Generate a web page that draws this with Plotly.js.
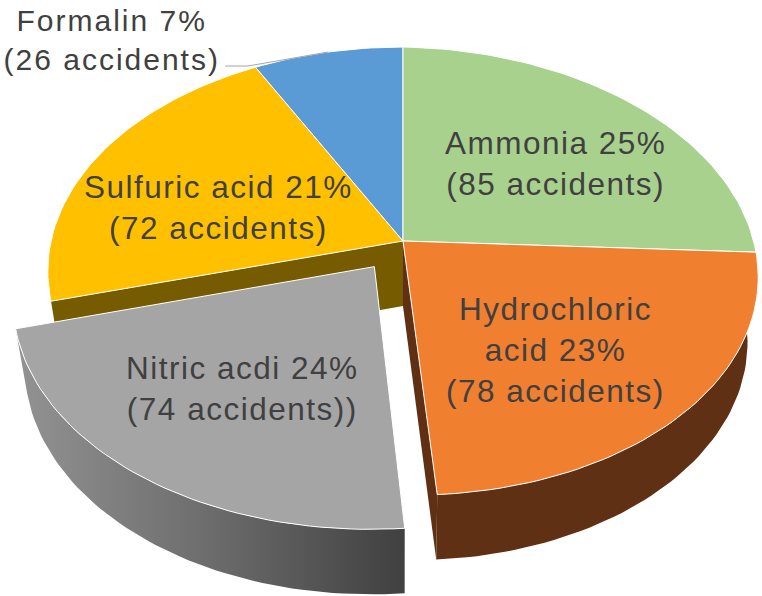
<!DOCTYPE html>
<html>
<head>
<meta charset="utf-8">
<script src="https://cdn.plot.ly/plotly-3.0.1.min.js"></script>
<style>html,body{margin:0;padding:0;background:#fff}#chart{width:762px;height:596px}
.annotation-text{letter-spacing:1.5px}
.annotation[data-index="4"] .annotation-text{letter-spacing:2px}</style>
</head>
<body>
<div id="chart"></div>
<script>
// Data
const categories = ['Ammonia', 'Hydrochloric acid', 'Nitric acdi', 'Sulfuric acid', 'Formalin'];
const accidents  = [85, 78, 74, 72, 26];
const percents   = [25, 23, 24, 21, 7];
const labelTexts = [
  'Ammonia 25%<br>(85 accidents)',
  'Hydrochloric<br>acid 23%<br>(78 accidents)',
  'Nitric acdi 24%<br>(74 accidents))',
  'Sulfuric acid 21%<br>(72 accidents)',
  'Formalin 7%<br>(26 accidents)'
];
const labelX = [555, 555, 242, 218, 111];
const labelY = [163, 350, 388, 207, 39.5];
const labelSizes = [31.5, 31.5, 31.5, 31.5, 30];
const topColors  = ['#a9d18e', '#f07f30', '#a5a5a5', '#ffc000', '#5b9bd5'];
const wallColors = ['#64803f', '#5f3013', '#5f5f5f', '#775b00', '#2e5d8a'];
const pulls      = [0, 0, 0.14, 0, 0];

// Tilted-pie view
const view = {cx: 403, cy: 241, a: 352, b: 220, k: 0.134, depth: 65, shrink: 0.97};
const total = accidents.reduce((s, v) => s + v, 0);
const D2R = Math.PI / 180;

function project(u, v, lower) {
  const w = 1 + view.k * v;
  let X = view.a * u / w;
  let Y = -view.b * v / w + 0.017 * Math.max(X, 0);
  if (lower) { X *= view.shrink; Y += view.depth; }
  return [view.cx + X, view.cy + Y];
}
function slicePoint(t, c, lower) {
  return project(Math.sin(t * D2R) + c[0], Math.cos(t * D2R) + c[1], lower);
}
function arc(t0, t1, c, lower) {
  const n = Math.max(2, Math.ceil(Math.abs(t1 - t0) / 1.5));
  const pts = [];
  for (let i = 0; i <= n; i++) pts.push(slicePoint(t0 + (t1 - t0) * i / n, c, lower));
  return pts;
}
const starts = [];
accidents.reduce((s, v, i) => { starts[i] = s; return s + v * 360 / total; }, 0);
const ends = accidents.map((v, i) => starts[i] + v * 360 / total);
const centres = accidents.map((v, i) => {
  const m = (starts[i] + ends[i]) / 2 * D2R;
  return [pulls[i] * Math.sin(m), pulls[i] * Math.cos(m)];
});

function polyTrace(pts, color, i, extra) {
  return Object.assign({
    type: 'scatter', mode: 'lines', fill: 'toself',
    x: pts.map(p => p[0]), y: pts.map(p => p[1]),
    fillcolor: color, line: {width: 0, color: color},
    hoveron: 'fills', hoverinfo: 'text',
    text: categories[i] + ': ' + accidents[i] + ' accidents (' + percents[i] + '%)',
    showlegend: false, name: categories[i]
  }, extra || {});
}
function topTrace(i) {
  const apex = project(centres[i][0], centres[i][1], false);
  const pts = [apex].concat(arc(starts[i], ends[i], centres[i], false), [apex]);
  return polyTrace(pts, topColors[i], i, {line: {width: 1, color: '#ffffff'}});
}
function sideWall(i) {
  const up = arc(starts[i], ends[i], centres[i], false);
  const low = arc(starts[i], ends[i], centres[i], true).reverse();
  return up.concat(low, [up[0]]);
}
function radialWall(i, t) {
  const c = centres[i];
  const a0 = project(c[0], c[1], false), a1 = project(c[0], c[1], true);
  const e0 = slicePoint(t, c, false), e1 = slicePoint(t, c, true);
  return [a0, e0, e1, a1, a0];
}

const iA = 0, iH = 1, iN = 2, iS = 3, iF = 4;
const traces = [
  polyTrace(radialWall(iS, starts[iS]), wallColors[iS], iS),
  topTrace(iS), topTrace(iF), topTrace(iA),
  polyTrace(radialWall(iH, ends[iH]), wallColors[iH], iH),
  polyTrace(sideWall(iH), wallColors[iH], iH),
  topTrace(iH),
  polyTrace(sideWall(iN), '#707070', iN, {
    fillgradient: {type: 'horizontal',
      colorscale: [[0, '#939393'], [0.5, '#6c6c6c'], [1, '#404040']]}
  }),
  topTrace(iN)
];

// Leader line for the Formalin label
const fMid = (starts[iF] + ends[iF]) / 2;
const fEnd = slicePoint(fMid, centres[iF], false);
const leaderX = [225, 248, fEnd[0]];
const leaderY = [66, 66, fEnd[1]];
traces.push({type: 'scatter', mode: 'lines', x: leaderX, y: leaderY,
  line: {color: '#a6a6a6', width: 1}, hoverinfo: 'skip', showlegend: false});

const annotations = labelTexts.map((t, i) => ({
  x: labelX[i], y: labelY[i], xref: 'x', yref: 'y', text: t, showarrow: false,
  align: 'center', xanchor: 'center', yanchor: 'middle',
  font: {family: '"Liberation Sans", Arial, sans-serif', size: labelSizes[i], color: '#404040'}
}));

Plotly.newPlot('chart', traces, {
  width: 762, height: 596,
  margin: {l: 0, r: 0, t: 0, b: 0},
  paper_bgcolor: '#ffffff', plot_bgcolor: '#ffffff',
  xaxis: {range: [0, 762], visible: false, fixedrange: true},
  yaxis: {range: [596, 0], visible: false, fixedrange: true},
  showlegend: false, annotations: annotations
}, {displayModeBar: false, responsive: false});
</script>
</body>
</html>
